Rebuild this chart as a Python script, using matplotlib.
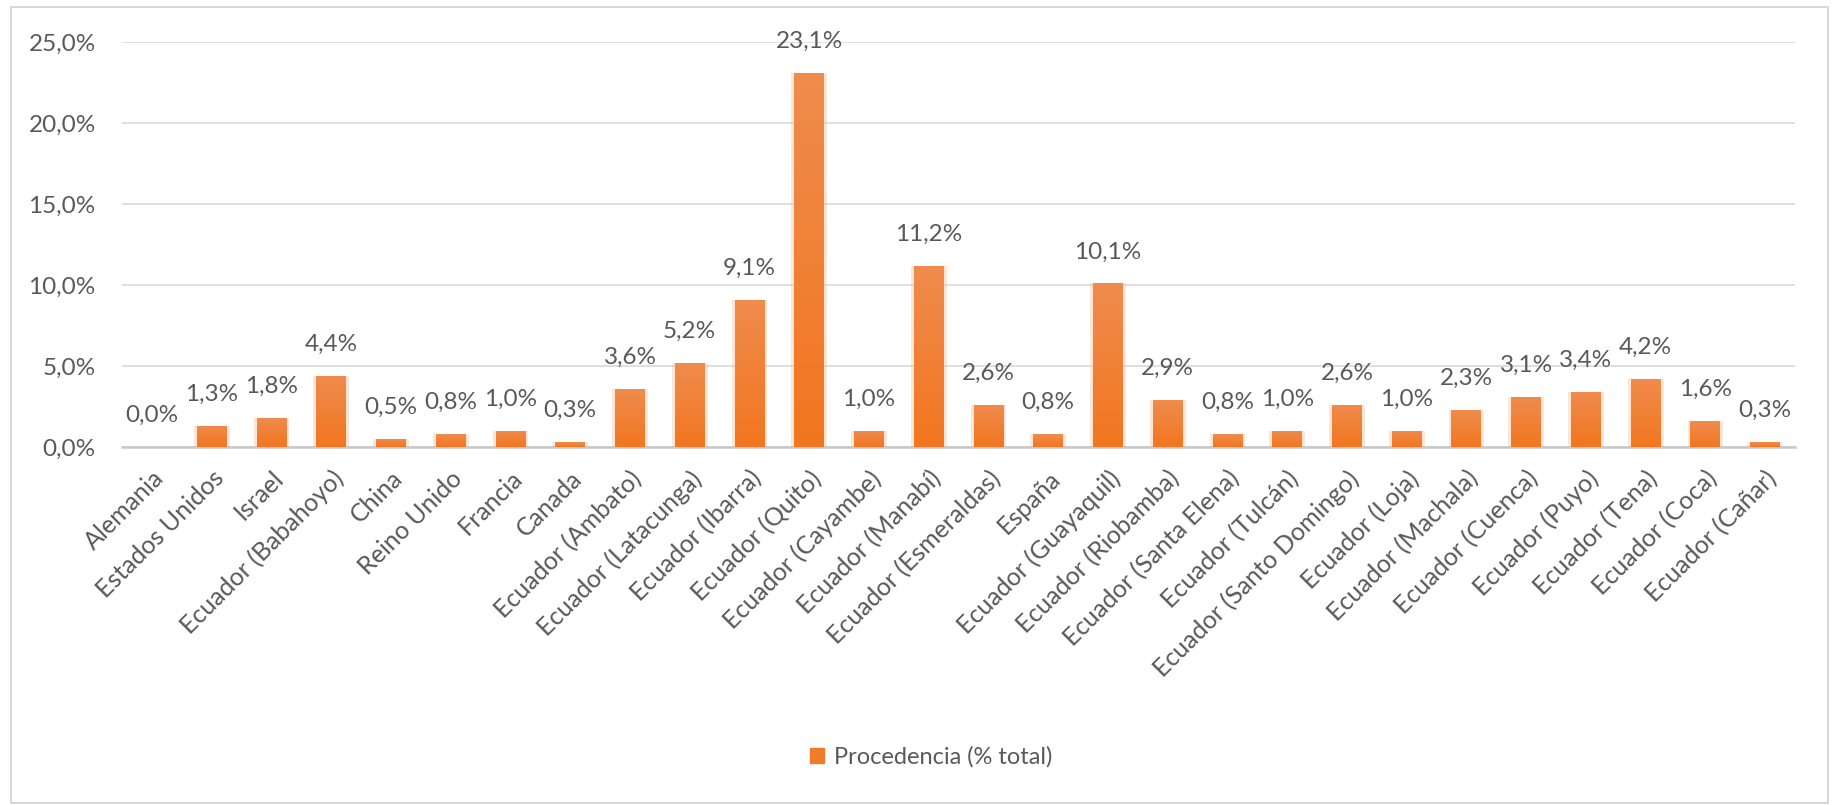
import numpy as np
import matplotlib; matplotlib.use("Agg"); import matplotlib.pyplot as plt
from matplotlib.colors import LinearSegmentedColormap
from matplotlib.patches import Rectangle

categories = ["Alemania", "Estados Unidos", "Israel", "Ecuador (Babahoyo)", "China",
              "Reino Unido", "Francia", "Canada", "Ecuador (Ambato)", "Ecuador (Latacunga)",
              "Ecuador (Ibarra)", "Ecuador (Quito)", "Ecuador (Cayambe)", "Ecuador (Manabí)",
              "Ecuador (Esmeraldas)", "España", "Ecuador (Guayaquil)", "Ecuador (Riobamba)",
              "Ecuador (Santa Elena)", "Ecuador (Tulcán)", "Ecuador (Santo Domingo)",
              "Ecuador (Loja)", "Ecuador (Machala)", "Ecuador (Cuenca)", "Ecuador (Puyo)",
              "Ecuador (Tena)", "Ecuador (Coca)", "Ecuador (Cañar)"]
values = [0.0, 1.3, 1.8, 4.4, 0.5, 0.8, 1.0, 0.3, 3.6, 5.2, 9.1, 23.1, 1.0, 11.2,
          2.6, 0.8, 10.1, 2.9, 0.8, 1.0, 2.6, 1.0, 2.3, 3.1, 3.4, 4.2, 1.6, 0.3]
yticks = [0, 5, 10, 15, 20, 25]
series_name = "Procedencia (% total)"

plt.rcParams["font.family"] = ["Lato", "DejaVu Sans"]
grey = "#595959"
FS = 17.5

def pct(v):
    return f"{v:.1f}".replace(".", ",") + "%"

fig = plt.figure(figsize=(18.33, 8.05), dpi=100)
fig.patches.append(Rectangle((0.006, 0.003), 0.991, 0.988, transform=fig.transFigure,
                             fill=False, ec="#D0D0D0", lw=1.2))
ax = fig.add_axes([0.0666, 0.4447, 0.9127, 0.5031])

x = np.arange(len(categories))
# soft glow behind bars
ax.bar(x, values, width=0.6, color="#F7B98C", alpha=0.35, zorder=2)
bars = ax.bar(x, values, width=0.5, color="#F07C2A", zorder=3)

# Excel-like vertical gradient: lighter top, deeper orange bottom
cmap = LinearSegmentedColormap.from_list("og", ["#F2761F", "#EF8C4E"])
grad = np.linspace(0, 1, 256).reshape(-1, 1)
for b in bars:
    if b.get_height() <= 0:
        continue
    im = ax.imshow(grad, cmap=cmap, aspect="auto", origin="lower", zorder=4,
                   extent=[b.get_x(), b.get_x() + b.get_width(), 0, b.get_height()])
    im.set_clip_path(b)

for xi, v in zip(x, values):
    ax.annotate(pct(v), (xi, v), xytext=(0, 15), textcoords="offset points",
                ha="center", va="bottom", fontsize=FS, color=grey, annotation_clip=False)

ax.set_xlim(-0.5, len(categories) - 0.5)
ax.set_ylim(0, 25)
ax.set_yticks(yticks)
ax.set_yticklabels([pct(t) for t in yticks], fontsize=FS, color=grey)
ax.set_xticks(x)
ax.set_xticklabels(categories, rotation=45, ha="right", va="top",
                   rotation_mode="anchor", fontsize=18, color=grey)
ax.tick_params(axis="y", length=0, pad=19)
ax.tick_params(axis="x", length=0, pad=14)
ax.grid(axis="y", color="#D9D9D9", lw=1.2, zorder=0)
for s in ["top", "right", "left"]:
    ax.spines[s].set_visible(False)
ax.spines["bottom"].set_color("#C8C8C8")
ax.spines["bottom"].set_linewidth(1.8)
ax.set_facecolor("none")

handle = Rectangle((0, 0), 1, 1, color="#F07C2A")
fig.legend([handle], [series_name], loc="center", bbox_to_anchor=(0.508, 0.06),
           frameon=False, fontsize=FS - 0.5, labelcolor=grey, handlelength=0.6,
           handleheight=0.6, handletextpad=0.4)

fig.savefig("out.png", dpi=100, facecolor="white")
